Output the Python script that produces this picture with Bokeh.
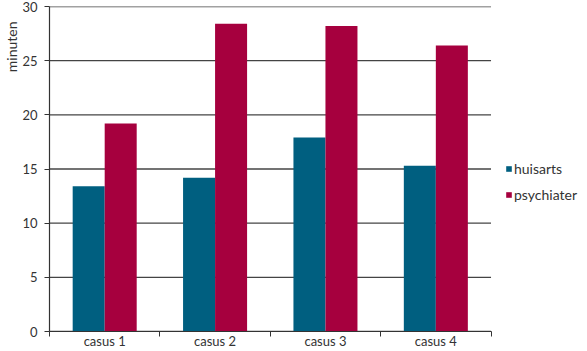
from bokeh.plotting import figure
from bokeh.models import ColumnDataSource, Range1d, FixedTicker, Legend, LegendItem, Title
from bokeh.transform import dodge
from bokeh.embed import file_html
from bokeh.resources import INLINE

categories = ["casus 1", "casus 2", "casus 3", "casus 4"]
huisarts = [13.4, 14.2, 17.9, 15.3]
psychiater = [19.2, 28.4, 28.2, 26.4]
y_ticks = [0, 5, 10, 15, 20, 25, 30]

n = len(categories)
pos = [i + 0.5 for i in range(n)]
src = ColumnDataSource(dict(x=pos, huisarts=huisarts, psychiater=psychiater))
grid_src = ColumnDataSource(dict(x0=[0] * len(y_ticks), x1=[n] * len(y_ticks), y=y_ticks))

FONT = "Lato"
TXT = "#333333"

# frame extends to the right edge so the legend (drawn inside the frame) is not clipped
p = figure(width=587, height=351, output_backend="svg", toolbar_location=None,
           x_range=Range1d(0, n + 0.874), y_range=Range1d(0, 30),
           min_border_left=10, min_border_right=0, min_border_top=6, min_border_bottom=0)
p.outline_line_color = None
p.background_fill_color = "white"
p.xgrid.grid_line_color = None
p.ygrid.grid_line_color = None

# horizontal gridlines only across the category area
p.segment(x0="x0", x1="x1", y0="y", y1="y", source=grid_src,
          line_color="#444444", line_width=1.3)

bw = 0.29
r1 = p.vbar(x=dodge("x", -bw / 2, range=p.x_range), top="huisarts", width=bw, source=src,
            fill_color="#005f80", line_color=None)
r2 = p.vbar(x=dodge("x", bw / 2, range=p.x_range), top="psychiater", width=bw, source=src,
            fill_color="#a6003e", line_color=None)

# x axis
xa = p.xaxis[0]
xa.bounds = (0, n)
xa.ticker = FixedTicker(ticks=pos, minor_ticks=list(range(n + 1)))
xa.major_label_overrides = {p_: c for p_, c in zip(pos, categories)}
xa.major_tick_out = 0
xa.major_tick_in = 0
xa.minor_tick_out = 5
xa.minor_tick_in = 0
xa.minor_tick_line_color = "#333333"
xa.axis_line_color = "#333333"
xa.axis_line_width = 1.2
xa.major_label_text_font = FONT
xa.major_label_text_font_size = "13px"
xa.major_label_text_color = TXT
xa.major_label_standoff = -4

# y axis
ya = p.yaxis[0]
ya.ticker = FixedTicker(ticks=y_ticks)
ya.major_tick_out = 5
ya.major_tick_in = 0
ya.minor_tick_out = 0
ya.minor_tick_in = 0
ya.major_tick_line_color = "#333333"
ya.axis_line_color = "#333333"
ya.axis_line_width = 1.2
ya.major_label_text_font = FONT
ya.major_label_text_font_size = "13px"
ya.major_label_text_color = TXT
ya.major_label_standoff = 7

ylab = Title(text="minuten", align="right", text_font=FONT, text_font_size="14px",
             text_font_style="normal", text_color=TXT, standoff=0, offset=15)
p.add_layout(ylab, "left")

legend = Legend(items=[LegendItem(label="huisarts", renderers=[r1]),
                       LegendItem(label="psychiater", renderers=[r2])],
                location=(456, 128), orientation="vertical")
legend.border_line_color = None
legend.background_fill_alpha = 0
legend.glyph_width = 7
legend.glyph_height = 7
legend.label_standoff = 2
legend.spacing = 8
legend.padding = 0
legend.margin = 0
legend.label_text_font = FONT
legend.label_text_font_size = "14px"
legend.label_text_color = TXT
legend.label_height = 18
p.add_layout(legend, "center")

open("out.html", "w").write(file_html(p, INLINE))
